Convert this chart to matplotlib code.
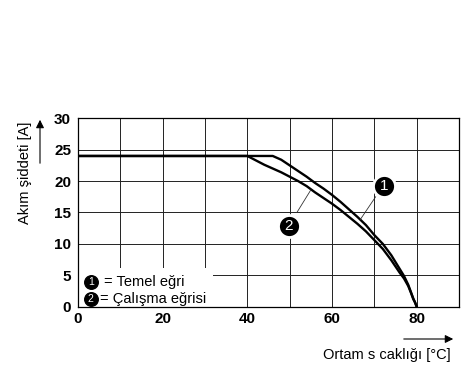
"""
Akım - ortam sıcaklığı derating eğrisi
"""
import matplotlib
matplotlib.use('Agg')
import matplotlib.pyplot as plt
from matplotlib.patches import Rectangle, FancyArrowPatch

plt.rcParams['font.family'] = ['Liberation Sans', 'DejaVu Sans']

# Eğri 1: Temel eğri
temel_x = [0, 46, 48, 50, 52, 54, 56, 58, 60, 62, 64, 66, 68, 70, 72, 74, 76, 77, 78,
           78.6, 79.2, 79.6, 80]
temel_y = [24, 24, 23.4, 22.5, 21.6, 20.7, 19.7, 18.8, 17.8, 16.7, 15.5, 14.3, 13.0, 11.4,
           10.0, 8.2, 6.0, 4.9, 3.5, 2.4, 1.3, 0.7, 0]

# Eğri 2: Çalışma eğrisi
calisma_x = [0, 40, 42, 44, 46, 48, 50, 52, 54, 56, 58, 60, 62, 64, 66, 68, 70, 72, 74, 76,
             77, 78, 78.6, 79.2, 79.6, 80]
calisma_y = [24, 24, 23.3, 22.6, 22.0, 21.4, 20.7, 20.0, 19.2, 18.2, 17.3, 16.4, 15.4, 14.3,
             13.2, 12.0, 10.6, 9.2, 7.4, 5.4, 4.5, 3.3, 2.3, 1.2, 0.7, 0]

x_ticks = [0, 20, 40, 60, 80]
y_ticks = [0, 5, 10, 15, 20, 25, 30]

fig = plt.figure(figsize=(4.72, 3.67), dpi=100)
ax = fig.add_axes([0.1653, 0.1643, 0.8072, 0.5134])

ax.set_xlim(0, 90)
ax.set_ylim(0, 30)
ax.set_xticks(x_ticks)
ax.set_xticks(range(0, 91, 10), minor=True)
ax.set_yticks(y_ticks)
ax.tick_params(which='both', length=0)
ax.tick_params(axis='x', pad=3.5, labelsize=11)
ax.tick_params(axis='y', pad=5, labelsize=11)
for lbl in ax.get_xticklabels() + ax.get_yticklabels():
    lbl.set_fontweight('bold')

ax.set_axisbelow(True)
ax.grid(True, which='both', color='#222222', lw=0.7)
for sp in ax.spines.values():
    sp.set_linewidth(0.9)

# eğriler
ax.plot(temel_x, temel_y, color='black', lw=1.7, zorder=3)
ax.plot(calisma_x, calisma_y, color='black', lw=1.7, zorder=3)

# eğri etiketleri
ax.plot([70.3, 66.7], [17.5, 13.9], color='#333333', lw=0.6, zorder=3)
ax.plot([51.7, 55.0], [15.0, 18.6], color='#333333', lw=0.6, zorder=3)
ax.scatter([72.3, 49.8], [19.25, 12.9], s=250, color='black',
           edgecolors='white', linewidths=2, zorder=4)
ax.text(72.3, 19.25, '1', color='white', fontsize=11, ha='center', va='center', zorder=5)
ax.text(49.8, 12.9, '2', color='white', fontsize=11, ha='center', va='center', zorder=5)

# legend kutusu
ax.add_patch(Rectangle((0, 0), 32, 6.2, facecolor='white', edgecolor='none', zorder=1))
ax.scatter([3.0, 3.0], [4.0, 1.2], s=95, color='black', zorder=4)
ax.text(3.0, 4.0, '1', color='white', fontsize=7.5, ha='center', va='center', zorder=5)
ax.text(3.0, 1.2, '2', color='white', fontsize=7.5, ha='center', va='center', zorder=5)
ax.text(6.1, 4.0, '= Temel eğri', fontsize=10.5, ha='left', va='center', zorder=5)
ax.text(5.2, 1.2, '= Çalışma eğrisi', fontsize=10.5, ha='left', va='center', zorder=5)

# eksen başlıkları ve oklar
fig.text(25 / 472, 1 - 173 / 367, 'Akım şiddeti [A]', rotation=90,
         fontsize=10.5, ha='center', va='center')
fig.text(386.5 / 472, 1 - 355 / 367, 'Ortam s caklığı [°C]',
         fontsize=10.5, ha='center', va='center')
arrow = dict(arrowstyle='-|>', color='black', lw=0.8, mutation_scale=12)
fig.add_artist(FancyArrowPatch((40 / 472, 1 - 166 / 367), (40 / 472, 1 - 117 / 367),
                               transform=fig.transFigure, **arrow))
fig.add_artist(FancyArrowPatch((401 / 472, 1 - 339 / 367), (456 / 472, 1 - 339 / 367),
                               transform=fig.transFigure, **arrow))

plt.savefig('out.png', dpi=100)
plt.close()
